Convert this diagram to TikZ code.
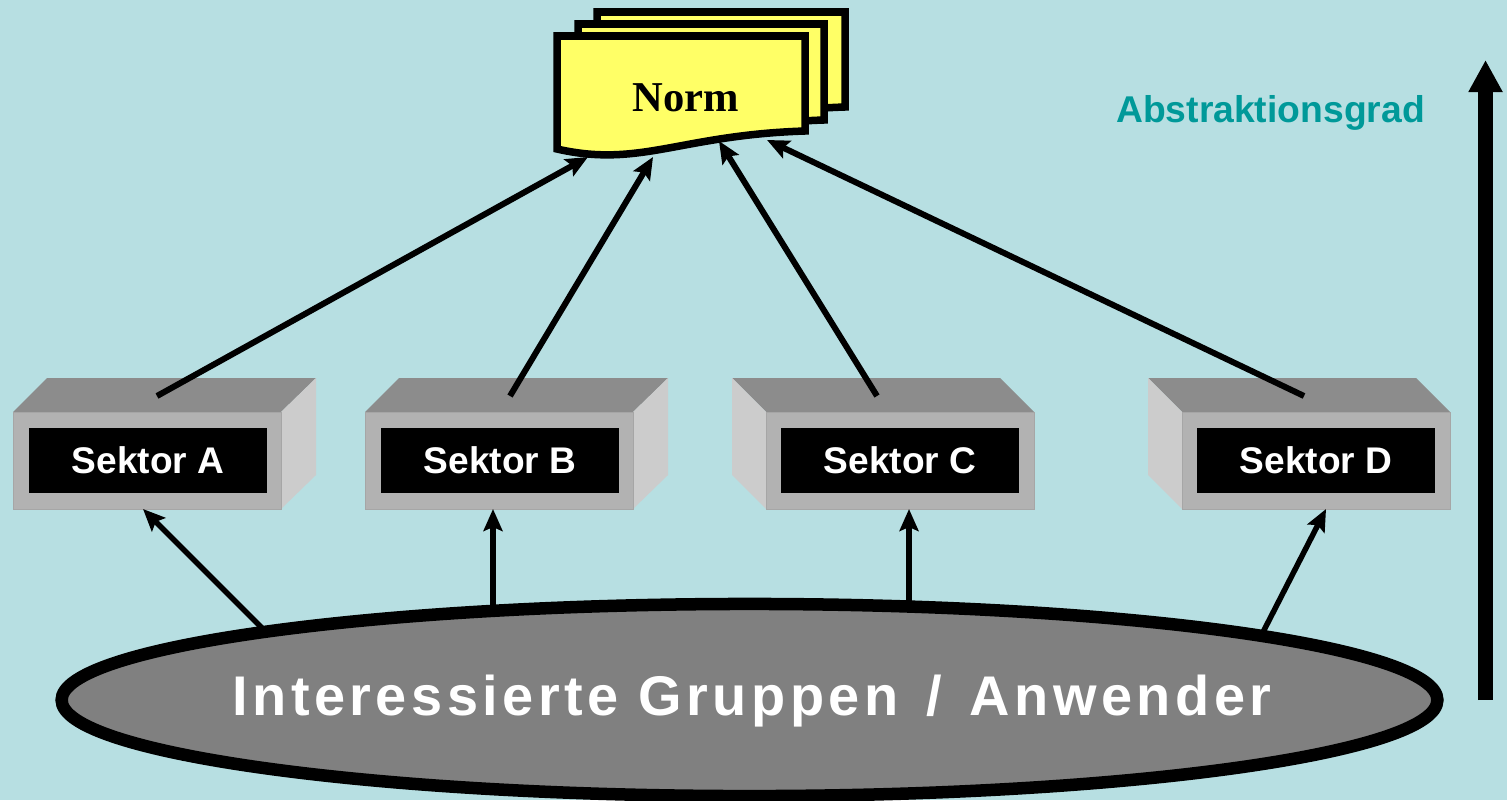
\documentclass[tikz,border=0pt]{standalone}
\usepackage{fontspec}
\setmainfont{Liberation Sans}
\newfontfamily\normfont{Liberation Serif}
\newfontfamily\widefont[LetterSpace=8]{Liberation Sans}
\usetikzlibrary{arrows.meta,shapes.geometric}
\definecolor{bgcol}{HTML}{B7DFE2}
\definecolor{sheetcol}{HTML}{FFFF66}
\definecolor{frontcol}{HTML}{B2B2B2}
\definecolor{edgecol}{HTML}{A6A6A6}
\definecolor{topcol}{HTML}{8C8C8C}
\definecolor{sidecol}{HTML}{CCCCCC}
\definecolor{groupcol}{HTML}{808080}
\definecolor{gradcol}{HTML}{009999}
\tikzset{
    sheet/.style={draw=black,fill=sheetcol,line width=0.075cm,miter limit=4},
    front/.style={fill=frontcol,draw=edgecol,line width=0.01cm},
    sektor/.style={fill=black,text=white,font=\fontsize{10.55pt}{12pt}\bfseries,inner sep=0pt,minimum width=2.38cm,minimum height=0.65cm},
    upper/.style={-{Stealth[length=0.22cm,width=0.19cm,inset=0.04cm]},line width=0.06cm},
    lower/.style={-{Stealth[length=0.22cm,width=0.19cm,inset=0.04cm]},line width=0.055cm}
}
\begin{document}
\begin{tikzpicture}[x=0.01cm,y=-0.01cm]
        \useasboundingbox (0,0) rectangle (1507,800);
        \fill[bgcol] (0,0) rectangle (1507,800);

        \draw[sheet] (597,12) -- (845,12) -- (845,107) .. controls (720,111) and (680,144) .. (597,125) -- cycle;
        \draw[sheet] (578,24) -- (824,24) -- (824,120) .. controls (700,124) and (661,156) .. (578,137) -- cycle;
        \draw[sheet] (557,36) -- (805,36) -- (805,131) .. controls (680,135) and (640,168) .. (557,149) -- cycle;
        \node[font=\normfont\fontsize{12.1pt}{14pt}\bfseries,inner sep=0pt] (norm) at (685.5,98) {Norm};

        \node[text=gradcol,font=\fontsize{10.6pt}{12pt}\bfseries,inner sep=0pt] (grad) at (1270.5,113) {Abstraktionsgrad};

        \coordinate (gradA) at (1485.5,700);
        \coordinate (gradB) at (1485.5,60);
        \draw[-{Triangle[length=0.32cm,width=0.32cm]},line width=0.155cm] (gradA) -- (gradB);

        % Sektor A
        \fill[topcol] (13,412) -- (47,378) -- (316,378) -- (281,412) -- cycle;
        \fill[sidecol] (281,412) -- (316,378) -- (316,475) -- (281,509) -- cycle;
        \draw[front] (13,412) rectangle (281,509);
        \node[sektor] (sektorA) at (148,460.5) {Sektor A};

        % Sektor B
        \fill[topcol] (365,412) -- (399,378) -- (668,378) -- (633,412) -- cycle;
        \fill[sidecol] (633,412) -- (668,378) -- (668,475) -- (633,509) -- cycle;
        \draw[front] (365,412) rectangle (633,509);
        \node[sektor] (sektorB) at (500,460.5) {Sektor B};

        % Sektor C
        \fill[topcol] (732,378) -- (1000,378) -- (1034,412) -- (766,412) -- cycle;
        \fill[sidecol] (732,378) -- (766,412) -- (766,509) -- (732,475) -- cycle;
        \draw[front] (766,412) rectangle (1034,509);
        \node[sektor] (sektorC) at (900,460.5) {Sektor C};

        % Sektor D
        \fill[topcol] (1148,378) -- (1416,378) -- (1450,412) -- (1182,412) -- cycle;
        \fill[sidecol] (1148,378) -- (1182,412) -- (1182,509) -- (1148,475) -- cycle;
        \draw[front] (1182,412) rectangle (1450,509);
        \node[sektor] (sektorD) at (1316,460.5) {Sektor D};

        \coordinate (outA) at (157,396);
        \coordinate (outB) at (510,396);
        \coordinate (outC) at (877,396);
        \coordinate (outD) at (1304,396);
        \coordinate (normA) at (588,157);
        \coordinate (normB) at (653,157);
        \coordinate (normC) at (719,141);
        \coordinate (normD) at (767,140);
        \draw[upper] (outA) -- (normA);
        \draw[upper] (outB) -- (normB);
        \draw[upper] (outC) -- (normC);
        \draw[upper] (outD) -- (normD);

        \coordinate (inA) at (143,509);
        \coordinate (inB) at (493,509);
        \coordinate (inC) at (909,509);
        \coordinate (inD) at (1326,509);
        \coordinate (gruppeA) at (266,632);
        \coordinate (gruppeB) at (493,608);
        \coordinate (gruppeC) at (909,606);
        \coordinate (gruppeD) at (1261,636);
        \draw[lower] (gruppeA) -- (inA);
        \draw[lower] (gruppeB) -- (inB);
        \draw[lower] (gruppeC) -- (inC);
        \draw[lower] (gruppeD) -- (inD);

        \node[ellipse,draw=black,fill=groupcol,line width=0.125cm,minimum width=13.75cm,minimum height=1.92cm,inner sep=0pt] (gruppen) at (749.5,700) {};
        \node[text=white,font=\widefont\fontsize{15.9pt}{18pt}\bfseries,inner sep=0pt] (gruppentext) at (752,701) {Interessierte Gruppen\kern0.08cm{} / \kern0.08cm{}Anwender};
    \end{tikzpicture}
\end{document}
